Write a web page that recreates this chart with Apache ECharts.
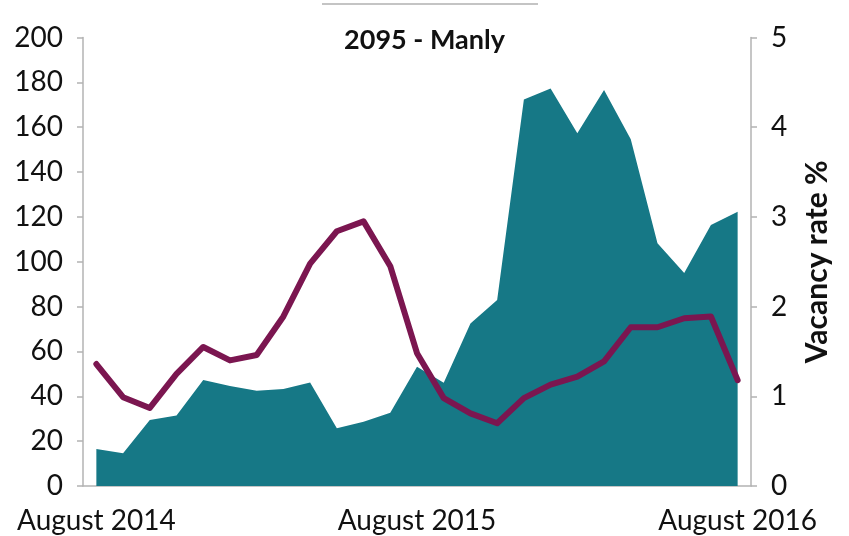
<!DOCTYPE html>
<html>
<head>
<meta charset="utf-8">
<script src="https://cdn.jsdelivr.net/npm/echarts@6/dist/echarts.min.js"></script>
<style>
html, body { margin: 0; padding: 0; background: #fff; }
#chart { width: 849px; height: 536px; }
</style>
</head>
<body>
<div id="chart"></div>
<script>
// months, August 2014 .. August 2016
var months = ['August 2014', 'September 2014', 'October 2014', 'November 2014', 'December 2014',
	'January 2015', 'February 2015', 'March 2015', 'April 2015', 'May 2015', 'June 2015', 'July 2015',
	'August 2015', 'September 2015', 'October 2015', 'November 2015', 'December 2015',
	'January 2016', 'February 2016', 'March 2016', 'April 2016', 'May 2016', 'June 2016', 'July 2016',
	'August 2016'];
// listings (left axis, area)
var listings = [16.5, 14.6, 29.4, 31.4, 47.3, 44.6, 42.5, 43.2, 46.2, 25.7, 28.7, 32.7,
	53.2, 46, 72.5, 82.9, 172.4, 177.3, 157.3, 176.6, 154.6, 108.2, 95, 116.4, 122.3];
// vacancy rate % (right axis, line)
var vacancy = [1.36, 0.99, 0.87, 1.25, 1.55, 1.40, 1.46, 1.89, 2.48, 2.84, 2.95, 2.45,
	1.48, 0.98, 0.81, 0.70, 0.98, 1.13, 1.22, 1.39, 1.77, 1.77, 1.87, 1.89, 1.18];

var font = 'Lato';
var axisGray = '#b3b3b3';

var chart = echarts.init(document.getElementById('chart'));
chart.setOption({
	animation : false,
	title : {
		text : '2095 - Manly',
		left : 'center',
		top : 22,
		textStyle : {
			fontFamily : font,
			fontWeight : 'bold',
			fontSize : 27,
			color : '#111'
		}
	},
	graphic : [ {
		type : 'line',
		shape : { x1 : 322, y1 : 4, x2 : 538, y2 : 4 },
		style : { stroke : '#c4c4c4', lineWidth : 2 }
	} ],
	grid : {
		left : 83,
		right : 98,
		top : 37.5,
		bottom : 50
	},
	xAxis : {
		type : 'category',
		data : months,
		boundaryGap : true,
		axisLine : { lineStyle : { color : axisGray, width : 1.5 } },
		axisTick : { interval : 0, length : 6, lineStyle : { color : axisGray, width : 1.5 } },
		axisLabel : {
			interval : 11,
			margin : 21,
			fontFamily : font,
			fontSize : 28,
			color : '#111'
		}
	},
	yAxis : [ {
		type : 'value',
		min : 0,
		max : 200,
		interval : 20,
		splitLine : { show : false },
		axisLine : { show : true, lineStyle : { color : axisGray, width : 1.5 } },
		axisTick : { show : true, length : 6, lineStyle : { color : axisGray, width : 1.5 } },
		axisLabel : {
			margin : 20,
			fontFamily : font,
			fontSize : 28,
			color : '#111'
		}
	}, {
		type : 'value',
		min : 0,
		max : 5,
		interval : 1,
		position : 'right',
		name : 'Vacancy rate %',
		nameLocation : 'middle',
		nameRotate : 90,
		nameGap : 51,
		nameTextStyle : {
			fontFamily : font,
			fontWeight : 'bold',
			fontSize : 30,
			color : '#111'
		},
		splitLine : { show : false },
		axisLine : { show : true, lineStyle : { color : axisGray, width : 1.5 } },
		axisTick : { show : true, length : 6, lineStyle : { color : axisGray, width : 1.5 } },
		axisLabel : {
			margin : 20,
			fontFamily : font,
			fontSize : 28,
			color : '#111'
		}
	} ],
	series : [ {
		name : 'Listings',
		type : 'line',
		yAxisIndex : 0,
		data : listings,
		symbol : 'none',
		lineStyle : { width : 0 },
		areaStyle : { color : '#167886', opacity : 1 },
		z : 1
	}, {
		name : 'Vacancy rate %',
		type : 'line',
		yAxisIndex : 1,
		data : vacancy,
		symbol : 'none',
		lineStyle : { color : '#7b1650', width : 6, cap : 'round', join : 'round' },
		z : 3
	} ]
});
</script>
</body>
</html>
